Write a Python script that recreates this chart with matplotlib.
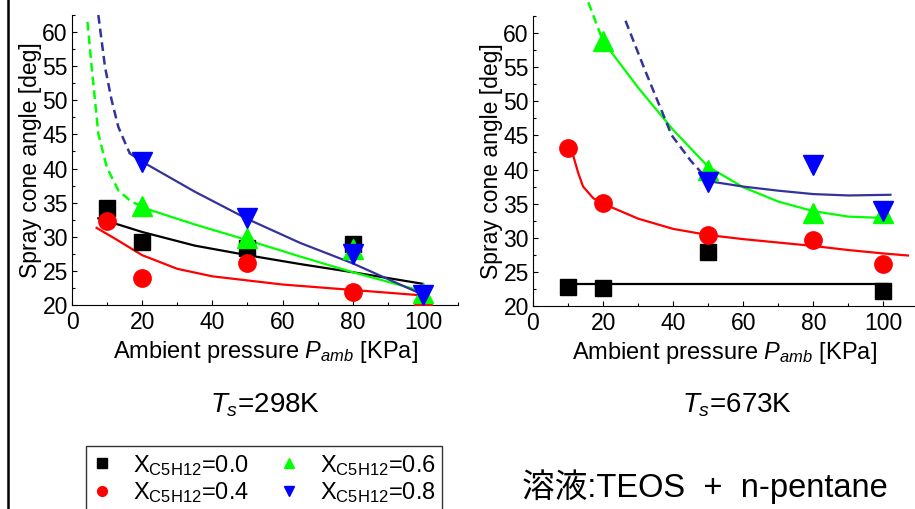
import matplotlib
matplotlib.use("Agg")
from matplotlib import pyplot as plt
from matplotlib.lines import Line2D
from matplotlib.ticker import MultipleLocator

# ---- measured points, T_s = 298 K ----
p298 = {
    "0.0": ([10, 20, 50, 80], [34.2, 29.3, 28.3, 28.9]),
    "0.4": ([10, 20, 50, 80, 100], [32.3, 24.0, 26.2, 21.9, 20.0]),
    "0.6": ([20, 50, 80, 100], [34.5, 29.8, 28.2, 21.7]),
    "0.8": ([20, 50, 80, 100], [41.0, 32.7, 27.5, 21.5]),
}
# fitted curves (solid part, dashed extrapolation)
fit298 = {
    "0.0": ([7.5, 20, 35, 50, 65, 80, 100], [32.7, 30.7, 28.7, 27.3, 26.0, 24.8, 23.1]),
    "0.4": ([7, 12, 20, 30, 40, 50, 60, 70, 80, 90, 100],
            [31.3, 29.8, 27.3, 25.3, 24.2, 23.6, 23.0, 22.6, 22.2, 21.8, 21.4]),
    "0.6": ([20, 35, 50, 65, 80, 100], [34.3, 31.8, 29.5, 27.1, 24.8, 22.0]),
    "0.8": ([16.5, 20, 35, 50, 65, 80, 100], [42.2, 41.0, 36.6, 32.6, 29.1, 26.1, 21.5]),
}
dash298 = {
    "0.6": ([4.4, 5.6, 7.5, 9.9, 13.2, 17, 20], [61.5, 54.9, 45.1, 40.2, 36.8, 35.1, 34.5]),
    "0.8": ([7.5, 9.4, 11.3, 13.2, 15.6, 16.5], [62.5, 54.9, 50.0, 46.1, 43.2, 42.2]),
}

# ---- measured points, T_s = 673 K ----
p673 = {
    "0.0": ([10, 20, 50, 100], [22.8, 22.6, 27.9, 22.2]),
    "0.4": ([10, 20, 50, 80, 100], [43.2, 35.1, 30.4, 29.6, 26.2]),
    "0.6": ([20, 50, 80, 100], [58.8, 40.0, 33.7, 33.7]),
    "0.8": ([50, 80, 100], [38.2, 40.6, 33.9]),
}
fit673 = {
    "0.0": ([10, 101], [23.2, 23.2]),
    "0.4": ([10, 11.5, 12.9, 14.3, 17.2, 20, 30, 40, 50, 60, 70, 80, 90, 100, 107],
            [43.0, 42.0, 39.5, 37.5, 35.8, 35.0, 32.8, 31.3, 30.4, 29.8, 29.3, 28.8, 28.2, 27.7, 27.4]),
    "0.6": ([20, 30, 40, 50, 60, 70, 80, 90, 100],
            [58.8, 52.0, 45.8, 40.4, 37.4, 35.3, 33.9, 33.1, 32.9]),
    "0.8": ([50, 60, 70, 80, 90, 102], [38.3, 37.5, 36.9, 36.4, 36.2, 36.3]),
}
dash673 = {
    "0.6": ([15.8, 18, 20], [64.5, 61.5, 58.8]),
    "0.8": ([26.4, 32, 39.6, 45, 49], [61.8, 54.5, 45, 41.3, 39.0]),
}

mole_fracs = ["0.0", "0.4", "0.6", "0.8"]
mark_col = {"0.0": "black", "0.4": "#ff0000", "0.6": "#00ff00", "0.8": "#0000ff"}
line_col = {"0.0": "black", "0.4": "#ff0000", "0.6": "#00ff00", "0.8": "#333399"}
markers = {"0.0": "s", "0.4": "o", "0.6": "^", "0.8": "v"}
msize = {"0.0": 11, "0.4": 12.5, "0.6": 14, "0.8": 14}

plt.rcParams["font.family"] = ["Liberation Sans", "DejaVu Sans"]
plt.rcParams["mathtext.fontset"] = "custom"
plt.rcParams["mathtext.rm"] = "Liberation Sans"
plt.rcParams["mathtext.it"] = "Liberation Sans:italic"

fig = plt.figure(figsize=(9.15, 5.09), dpi=100)
ax1 = fig.add_axes([0.0787, 0.4008, 0.4219, 0.5697])
ax2 = fig.add_axes([0.5825, 0.3988, 0.4175, 0.5698])


def draw_panel(ax, pts, fits, dashes, xmax):
    for k in mole_fracs:
        if k in fits:
            ax.plot(*fits[k], color=line_col[k], lw=1.6, zorder=2)
        if k in dashes:
            ax.plot(*dashes[k], color=line_col[k], lw=1.8, ls=(0, (3.5, 2)),
                    zorder=2, clip_on=False)
        ax.plot(*pts[k], ls="none", marker=markers[k], ms=msize[k],
                color=mark_col[k], mec=mark_col[k], zorder=3)
    ax.set_xlim(0, xmax)
    ax.set_ylim(20, 62.5)
    ax.spines["top"].set_visible(False)
    ax.spines["right"].set_visible(False)
    ax.xaxis.set_major_locator(MultipleLocator(20))
    ax.xaxis.set_minor_locator(MultipleLocator(10))
    ax.yaxis.set_major_locator(MultipleLocator(5))
    ax.yaxis.set_minor_locator(MultipleLocator(2.5))
    ax.tick_params(which="major", direction="in", length=3.6, width=0.8, labelsize=16.5)
    ax.tick_params(which="minor", direction="in", length=2.2, width=0.8)
    ax.tick_params(axis="x", pad=4)
    ax.tick_params(axis="y", pad=3)
    ax.set_ylabel("Spray cone angle [deg]", fontsize=16.5, labelpad=0)
    ax.set_xlabel("Ambient pressure $P_{amb}$ [KPa]", fontsize=17, labelpad=4)


draw_panel(ax1, p298, fit298, dash298, 110)
draw_panel(ax2, p673, fit673, dash673, 109)

fig.text(265 / 915, 1 - 405 / 509, "$T_s$=298K", ha="center", va="center", fontsize=20)
fig.text(737 / 915, 1 - 405 / 509, "$T_s$=673K", ha="center", va="center", fontsize=20)

handles = [Line2D([], [], ls="none", marker=markers[k], color=mark_col[k], ms=7)
           for k in mole_fracs]
labels = ["X$_{\\mathrm{C5H12}}$=" + k for k in mole_fracs]
leg = fig.legend(handles, labels, ncol=2, loc="upper left",
                 bbox_to_anchor=(86 / 915, 1 - 446 / 509), fontsize=17,
                 frameon=True, fancybox=False, edgecolor="black",
                 handlelength=0.8, handletextpad=0.9, columnspacing=1.3,
                 labelspacing=0.1, borderpad=0.28, borderaxespad=0)
leg.get_frame().set_linewidth(1.0)

fig.text(522 / 915, 1 - 487 / 509, "溶液:TEOS  +  n-pentane", ha="left", va="center",
         fontsize=23.5, family=["Liberation Sans", "Noto Sans CJK JP"])

fig.add_artist(Line2D([8 / 915, 8 / 915], [0, 1], color="black", lw=1.8))

fig.savefig("out.png", dpi=100)
